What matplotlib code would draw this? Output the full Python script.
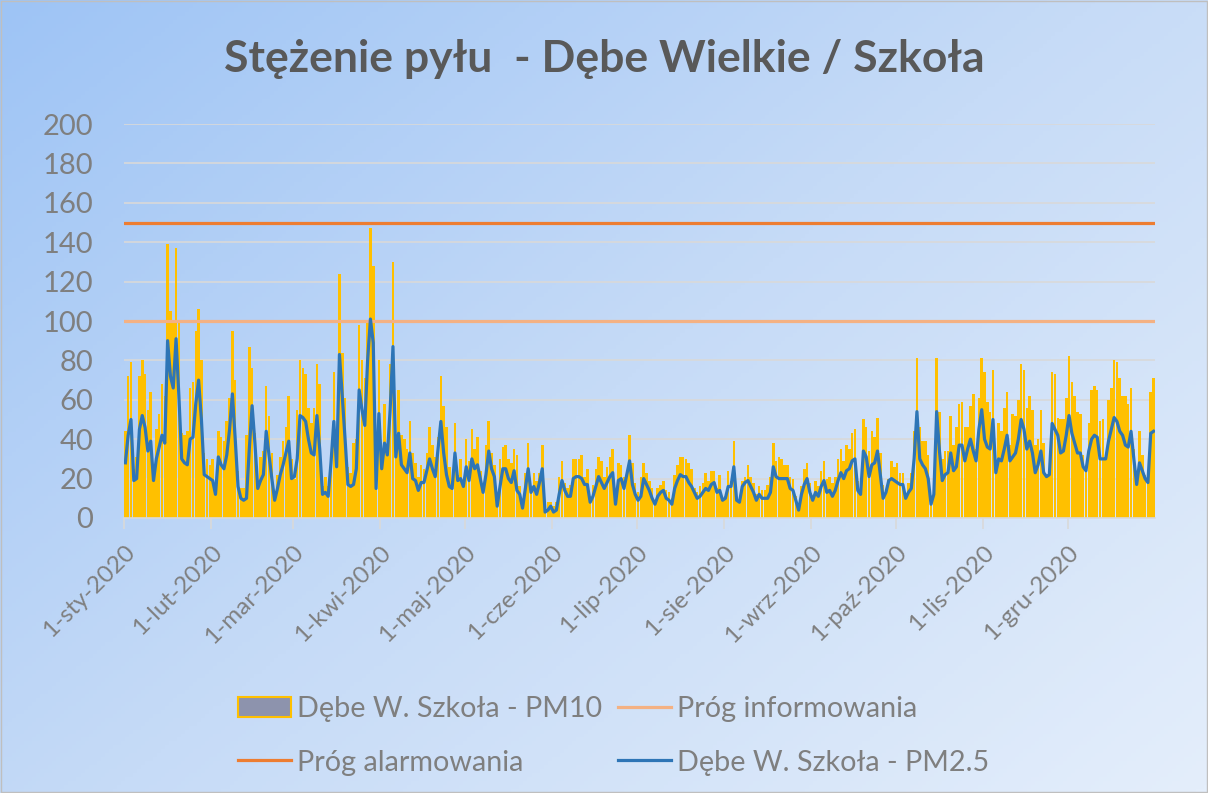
import numpy as np
import matplotlib
matplotlib.use('Agg')
import matplotlib.pyplot as plt
from matplotlib.colors import LinearSegmentedColormap
from matplotlib.patches import Patch, Rectangle
from matplotlib.lines import Line2D

plt.rcParams['font.family'] = ['Lato', 'DejaVu Sans']

# daily values 2020 (leap year), one list per month
pm10_sty = [44, 72, 79, 25, 31, 72, 80, 73, 55, 64, 25, 45, 53, 68, 62, 139, 105, 100, 137, 100,
            43, 42, 44, 66, 69, 95, 106, 80, 33, 30, 27]
pm10_lut = [30, 18, 44, 41, 39, 49, 61, 95, 70, 24, 15, 15, 42, 87, 76, 43, 18, 31, 34, 67,
            52, 33, 10, 22, 31, 39, 46, 62, 30]
pm10_mar = [20, 55, 80, 76, 73, 56, 48, 56, 78, 68, 16, 21, 16, 30, 74, 26, 124, 84, 61, 26,
            23, 38, 40, 98, 80, 71, 99, 147, 128, 20, 80]
pm10_kwi = [30, 58, 36, 78, 130, 33, 65, 42, 40, 35, 49, 33, 28, 21, 27, 25, 33, 46, 37, 31,
            41, 72, 57, 46, 26, 19, 48, 22, 30, 18]
pm10_maj = [40, 29, 45, 35, 41, 24, 16, 37, 49, 33, 27, 10, 30, 36, 37, 30, 28, 35, 32, 16,
            6, 23, 38, 16, 23, 19, 23, 37, 5, 8, 8]
pm10_cze = [6, 8, 21, 29, 18, 15, 17, 30, 30, 30, 32, 21, 25, 11, 17, 25, 31, 29, 21, 26,
            31, 35, 10, 28, 27, 21, 23, 42, 28, 18]
pm10_lip = [13, 21, 28, 23, 19, 15, 8, 15, 17, 19, 14, 13, 10, 22, 27, 31, 31, 30, 28, 25,
            15, 13, 16, 18, 23, 19, 24, 24, 15, 22, 10]
pm10_sie = [11, 24, 19, 39, 10, 9, 19, 21, 27, 21, 18, 12, 16, 14, 14, 17, 21, 38, 29, 31,
            30, 27, 27, 21, 20, 11, 5, 16, 25, 28, 18]
pm10_wrz = [11, 19, 16, 24, 29, 20, 21, 18, 21, 30, 35, 29, 37, 35, 43, 45, 19, 14, 50, 46,
            34, 44, 41, 51, 33, 17, 14, 20, 29, 26]
pm10_paz = [28, 23, 23, 11, 18, 23, 44, 81, 46, 39, 39, 32, 9, 13, 81, 54, 30, 34, 34, 52,
            37, 46, 58, 59, 46, 46, 57, 63, 35, 61, 81]
pm10_lis = [74, 59, 54, 75, 25, 48, 44, 56, 64, 37, 53, 52, 60, 78, 75, 56, 62, 55, 37, 40,
            55, 38, 22, 24, 74, 73, 51, 50, 50, 61]
pm10_gru = [82, 69, 62, 54, 53, 32, 27, 48, 65, 67, 65, 49, 50, 31, 60, 66, 80, 79, 71, 62,
            62, 58, 66, 35, 22, 44, 32, 22, 20, 64, 71]

pm25_sty = [28, 42, 50, 19, 20, 45, 52, 46, 34, 39, 19, 30, 36, 42, 38, 90, 72, 66, 91, 62,
            30, 28, 27, 40, 41, 58, 70, 50, 22, 21, 20]
pm25_lut = [19, 12, 31, 27, 25, 32, 45, 63, 40, 16, 10, 9, 10, 35, 57, 38, 15, 19, 22, 44,
            32, 20, 9, 15, 22, 27, 33, 39, 20]
pm25_mar = [21, 30, 52, 51, 49, 40, 33, 32, 52, 35, 12, 13, 11, 28, 49, 26, 83, 62, 40, 17,
            16, 17, 25, 65, 55, 47, 80, 101, 89, 15, 53]
pm25_kwi = [25, 38, 32, 55, 87, 31, 43, 27, 25, 23, 33, 20, 19, 14, 18, 18, 24, 30, 25, 21,
            35, 49, 33, 22, 16, 15, 33, 19, 20, 16]
pm25_maj = [26, 19, 30, 25, 27, 20, 13, 22, 34, 25, 21, 6, 16, 25, 25, 20, 18, 24, 14, 12,
            5, 15, 25, 13, 16, 12, 18, 25, 3, 4, 6]
pm25_cze = [3, 4, 12, 19, 14, 11, 11, 20, 21, 21, 20, 17, 17, 8, 11, 16, 21, 18, 15, 18,
            21, 23, 7, 19, 20, 15, 22, 29, 17, 12]
pm25_lip = [9, 11, 20, 17, 14, 10, 7, 11, 13, 14, 10, 9, 7, 15, 19, 22, 21, 21, 18, 16,
            13, 10, 11, 13, 15, 14, 17, 18, 13, 14, 9]
pm25_sie = [10, 16, 16, 26, 9, 8, 16, 18, 19, 16, 13, 9, 12, 10, 10, 10, 13, 26, 21, 20,
            20, 20, 20, 15, 14, 9, 4, 12, 17, 20, 13]
pm25_wrz = [9, 13, 11, 16, 19, 13, 14, 11, 14, 19, 23, 20, 24, 25, 29, 30, 14, 12, 34, 31,
            21, 27, 28, 34, 22, 10, 13, 19, 20, 19]
pm25_paz = [18, 17, 17, 10, 13, 15, 30, 54, 30, 27, 25, 20, 7, 12, 54, 34, 19, 22, 23, 33,
            24, 26, 37, 37, 29, 35, 40, 34, 29, 45, 55]
pm25_lis = [40, 36, 35, 50, 23, 30, 29, 35, 42, 29, 31, 33, 40, 50, 45, 35, 39, 33, 23, 27,
            34, 23, 21, 22, 48, 45, 42, 33, 34, 42]
pm25_gru = [52, 43, 38, 33, 33, 26, 24, 34, 40, 42, 41, 30, 30, 30, 39, 45, 51, 49, 44, 42,
            37, 36, 44, 30, 17, 28, 24, 20, 18, 43, 44]

month_labels = ['1-sty-2020', '1-lut-2020', '1-mar-2020', '1-kwi-2020', '1-maj-2020', '1-cze-2020',
                '1-lip-2020', '1-sie-2020', '1-wrz-2020', '1-paź-2020', '1-lis-2020', '1-gru-2020']

prog_informowania = 100
prog_alarmowania = 150

pm10 = np.array(pm10_sty + pm10_lut + pm10_mar + pm10_kwi + pm10_maj + pm10_cze
                + pm10_lip + pm10_sie + pm10_wrz + pm10_paz + pm10_lis + pm10_gru)
pm25 = np.array(pm25_sty + pm25_lut + pm25_mar + pm25_kwi + pm25_maj + pm25_cze
                + pm25_lip + pm25_sie + pm25_wrz + pm25_paz + pm25_lis + pm25_gru)
month_len = [len(m) for m in (pm10_sty, pm10_lut, pm10_mar, pm10_kwi, pm10_maj, pm10_cze,
                               pm10_lip, pm10_sie, pm10_wrz, pm10_paz, pm10_lis, pm10_gru)]
month_start = np.concatenate([[0], np.cumsum(month_len)[:-1]])
days = np.arange(len(pm10)) + 0.5

fig = plt.figure(figsize=(12.08, 7.93), dpi=100)

# diagonal blue gradient background like the excel chart area
bg = fig.add_axes([0, 0, 1, 1], zorder=-10)
gx, gy = np.meshgrid(np.linspace(0, 1, 300), np.linspace(0, 1, 200))
grad = (gx * 0.55 + gy * 0.45)
cmap = LinearSegmentedColormap.from_list('bg', ['#9ec4f5', '#c6dbf7', '#e4eefb'])
bg.imshow(grad, cmap=cmap, aspect='auto', extent=[0, 1, 0, 1], origin='upper')
bg.set_axis_off()
fig.add_artist(Rectangle((0.001, 0.001), 0.998, 0.998, transform=fig.transFigure,
                         fill=False, edgecolor='#bfbfbf', linewidth=1))

ax = fig.add_axes([0.1026, 0.3468, 0.8535, 0.4968])
ax.set_facecolor('none')

# the actual data
ax.bar(days, pm10, width=0.9, color='#ffc000', zorder=2)
ax.axhline(prog_informowania, color='#f4b183', linewidth=2.3, zorder=3)
ax.axhline(prog_alarmowania, color='#ed7d31', linewidth=2.3, zorder=3)
ax.plot(days, pm25, color='#2e75b6', linewidth=2.3, zorder=4)

ax.set_xlim(0, len(pm10))
ax.set_ylim(0, 200)
ax.set_yticks(np.arange(0, 201, 20))
ax.yaxis.grid(True, color='#d9d9d9', linewidth=1.2, zorder=0)
ax.set_axisbelow(True)
ax.tick_params(axis='y', length=0, labelsize=21, labelcolor='#7f7f7f', pad=22)

ax.set_xticks(month_start)
ax.set_xticklabels(month_labels, rotation=45, ha='right', rotation_mode='anchor')
ax.tick_params(axis='x', length=8, color='#d9d9d9', width=1.2, labelsize=17.5,
               labelcolor='#7f7f7f', pad=9)
for s in ['top', 'right', 'left']:
    ax.spines[s].set_visible(False)
ax.spines['bottom'].set_color('#d9d9d9')
ax.spines['bottom'].set_linewidth(1.2)

fig.text(0.5, 0.925, 'Stężenie pyłu  - Dębe Wielkie / Szkoła', ha='center', va='center',
         fontsize=32, fontweight='bold', color='#595959')

handles = [Patch(facecolor='#8d93ad', edgecolor='#ffc000', linewidth=1.5),
           Line2D([], [], color='#ed7d31', linewidth=2.3),
           Line2D([], [], color='#f4b183', linewidth=2.3),
           Line2D([], [], color='#2e75b6', linewidth=2.3)]
labels = ['Dębe W. Szkoła - PM10', 'Próg alarmowania', 'Próg informowania', 'Dębe W. Szkoła - PM2.5']
fig.legend(handles, labels, ncol=2, loc='center', bbox_to_anchor=(0.508, 0.072), frameon=False,
           fontsize=20.7, labelcolor='#7f7f7f', handlelength=1.85, handletextpad=0.2,
           columnspacing=0.55, labelspacing=0.95)

fig.savefig('out.png', dpi=100)
